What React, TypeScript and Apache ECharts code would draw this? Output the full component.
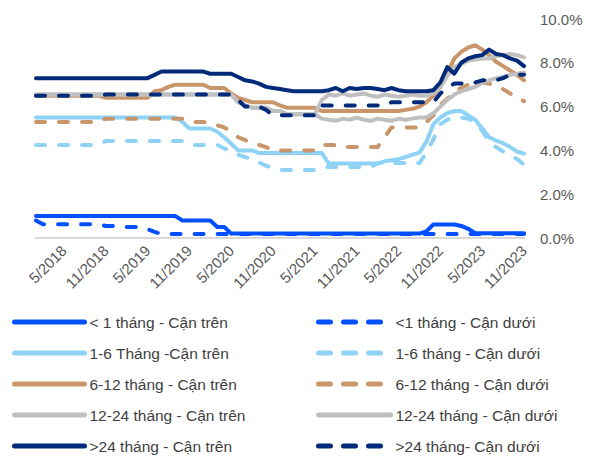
import React, { useEffect, useRef } from "react";
import * as echarts from "echarts";

const months = [
  "1/2018","2/2018","3/2018","4/2018","5/2018","6/2018","7/2018","8/2018","9/2018","10/2018","11/2018","12/2018",
  "1/2019","2/2019","3/2019","4/2019","5/2019","6/2019","7/2019","8/2019","9/2019","10/2019","11/2019","12/2019",
  "1/2020","2/2020","3/2020","4/2020","5/2020","6/2020","7/2020","8/2020","9/2020","10/2020","11/2020","12/2020",
  "1/2021","2/2021","3/2021","4/2021","5/2021","6/2021","7/2021","8/2021","9/2021","10/2021","11/2021","12/2021",
  "1/2022","2/2022","3/2022","4/2022","5/2022","6/2022","7/2022","8/2022","9/2022","10/2022","11/2022","12/2022",
  "1/2023","2/2023","3/2023","4/2023","5/2023","6/2023","7/2023","8/2023","9/2023","10/2023","11/2023"
];

const yTicks = [0, 2, 4, 6, 8, 10];

const lt1Upper = [
  1.0,1.0,1.0,1.0,1.0,1.0,1.0,1.0,1.0,1.0,1.0,1.0,1.0,1.0,1.0,1.0,1.0,1.0,1.0,1.0,1.0,
  0.8,0.8,0.8,0.8,0.8,
  0.5,0.5,
  0.2,0.2,0.2,0.2,0.2,0.2,0.2,0.2,0.2,0.2,0.2,0.2,0.2,0.2,0.2,0.2,0.2,0.2,0.2,0.2,0.2,0.2,0.2,0.2,0.2,0.2,0.2,0.2,
  0.3,0.62,0.62,0.62,0.62,0.55,0.42,
  0.22,0.22,0.22,0.22,0.22,0.22,0.22,0.22
];
const lt1Lower = [
  0.8,
  0.63,0.63,0.63,0.63,0.63,0.63,0.63,0.63,0.63,
  0.55,0.55,
  0.5,0.5,0.5,0.5,
  0.4,0.28,
  0.18,0.18,0.18,0.18,0.18,0.18,0.18,0.18,0.18,0.18,0.18,0.18,0.18,0.18,0.18,0.18,0.18,0.18,0.18,0.18,0.18,0.18,0.18,0.18,0.18,0.18,0.18,
  0.18,0.18,0.18,0.18,0.18,0.18,0.18,0.18,0.18,0.18,0.18,0.18,0.18,0.18,0.18,0.18,0.18,0.18,0.18,0.18,0.18,0.18,0.18,0.18,0.18,0.18
];
const m1to6Upper = [
  5.5,5.5,5.5,5.5,5.5,5.5,5.5,5.5,5.5,5.5,5.5,5.5,5.5,5.5,5.5,5.5,5.5,5.5,5.5,5.5,5.5,
  5.3,5.0,5.0,5.0,5.0,4.85,4.6,4.3,4.0,4.0,4.0,
  3.88,3.88,3.88,3.88,3.88,3.88,3.88,3.88,3.88,3.88,
  3.4,3.4,3.4,3.4,3.4,3.4,3.4,3.4,
  3.5,3.55,3.6,3.7,3.8,3.9,
  4.4,5.2,5.5,5.7,5.8,5.8,5.6,5.4,5.0,4.6,4.45,4.33,4.15,3.95,3.85
];
const m1to6Lower = [
  4.25,4.25,4.25,4.25,4.25,4.25,4.25,4.25,4.25,4.25,
  4.43,4.43,4.43,4.43,4.43,4.43,4.43,4.43,4.43,4.43,4.43,4.43,
  4.25,4.25,4.25,4.25,4.25,
  4.1,3.93,3.8,3.7,3.6,3.45,3.3,3.2,
  3.1,3.1,3.1,3.1,3.1,3.1,
  3.24,3.24,3.24,3.24,3.24,3.24,3.24,3.24,
  3.42,3.42,3.42,3.42,3.42,3.42,3.42,
  3.9,4.5,5.2,5.4,5.5,5.5,5.45,5.3,4.9,4.4,4.15,3.95,3.8,3.6,3.35
];
const m6to12Upper = [
  6.5,6.5,6.5,6.5,6.5,6.5,6.5,6.5,6.5,6.5,
  6.4,6.4,6.4,6.4,6.4,6.4,6.4,
  6.7,6.75,6.9,
  7.0,7.0,7.0,7.0,7.0,
  6.85,6.85,6.85,
  6.6,6.4,6.3,
  6.2,6.2,6.2,6.2,
  6.05,
  5.95,5.95,5.95,5.95,5.95,
  5.8,5.8,5.8,5.8,5.8,5.8,5.8,5.8,5.8,5.8,5.8,5.8,
  5.85,5.9,6.0,6.2,6.5,6.9,7.5,8.2,8.5,8.7,8.8,8.6,8.35,8.05,7.85,7.65,7.45,7.2
];
const m6to12Lower = [
  5.3,5.3,5.3,5.3,5.3,5.3,5.3,5.3,5.3,5.3,
  5.45,5.45,5.45,5.45,5.45,5.45,5.45,5.45,5.45,5.45,5.45,5.45,
  5.3,5.3,5.3,
  5.25,5.15,5.05,4.85,4.6,4.47,4.35,4.25,4.15,
  4.0,4.0,4.0,4.0,4.0,4.0,4.0,
  4.25,4.25,4.25,
  4.15,4.15,4.15,4.15,4.15,4.15,
  4.6,
  5.05,5.05,5.05,5.05,5.05,
  5.3,5.6,6.1,6.35,6.7,6.85,7.0,7.1,7.1,7.05,6.95,6.8,6.6,6.4,6.25
];
const m12to24Upper = [
  6.55,6.55,6.55,6.55,6.55,6.55,6.55,6.55,6.55,6.55,6.55,6.55,6.55,6.55,6.55,6.55,6.55,6.55,6.55,6.55,
  6.55,6.55,6.55,6.55,6.55,6.55,6.55,6.55,6.55,
  6.2,6.05,5.95,5.95,5.95,5.8,5.8,5.65,5.65,5.65,5.65,5.65,
  6.3,
  6.55,6.5,6.6,6.5,6.55,6.6,6.5,6.45,6.55,6.5,6.45,6.5,6.55,6.5,6.5,6.6,
  6.9,7.4,7.8,7.95,8.1,8.15,8.2,8.2,8.3,8.35,8.4,8.35,8.25
];
const m12to24Lower = [
  6.55,6.55,6.55,6.55,6.55,6.55,6.55,6.55,6.55,6.55,6.55,6.55,6.55,6.55,6.55,6.55,6.55,6.55,6.55,6.55,
  6.55,6.55,6.55,6.55,6.55,6.55,6.55,6.55,6.55,
  6.2,6.05,5.95,5.95,5.95,5.8,5.8,5.65,5.65,5.65,5.65,5.65,
  5.45,5.4,5.35,5.45,5.4,5.5,5.4,5.35,5.45,5.4,5.35,5.45,5.4,5.45,5.5,5.5,
  5.7,6.0,6.3,6.55,6.7,6.8,6.9,7.1,7.2,7.3,7.35,7.45,7.5,7.55
];
const gt24Upper = [
  7.3,7.3,7.3,7.3,7.3,7.3,7.3,7.3,7.3,7.3,7.3,7.3,7.3,7.3,7.3,7.3,7.3,
  7.45,
  7.6,7.6,7.6,7.6,7.6,7.6,7.6,
  7.5,7.5,7.5,7.5,
  7.35,7.2,7.15,7.05,6.9,6.85,6.8,6.75,
  6.7,6.7,6.7,6.7,
  6.7,6.75,6.85,6.7,6.85,6.8,6.85,6.85,6.8,6.75,6.85,6.75,6.7,6.7,6.7,6.7,6.75,
  7.1,7.8,7.5,8.0,8.2,8.3,8.35,8.6,8.4,8.35,8.2,8.1,7.85
];
const gt24Lower = [
  6.5,6.5,6.5,6.5,6.5,6.5,6.5,6.5,6.5,6.5,
  6.55,6.55,6.55,6.55,6.55,6.55,6.55,6.55,6.55,6.55,6.55,6.55,6.55,6.55,6.55,6.55,6.55,6.55,6.55,
  6.3,6.0,6.0,6.0,5.85,
  5.6,5.6,5.6,5.6,5.6,5.6,5.6,
  6.05,6.05,6.05,6.05,6.05,6.05,6.05,6.05,6.05,6.05,
  6.2,6.2,6.2,6.2,6.2,6.2,6.2,
  6.6,6.85,7.05,7.05,7.05,7.1,7.2,7.2,7.2,7.3,7.45,7.45,7.45
];

const BLUE = "#0050FF";
const LIGHT = "#8ED3F6";
const BROWN = "#C9966B";
const GRAY = "#BFBFBF";
const NAVY = "#002B7A";

const FONT = "'Liberation Sans Narrow', 'Arial Narrow', 'Liberation Sans', Arial, sans-serif";

type Def = { name: string; data: number[]; color: string; dashed: boolean };

const defs: Def[] = [
  { name: "< 1 tháng - Cận trên", data: lt1Upper, color: BLUE, dashed: false },
  { name: "<1 tháng - Cận dưới", data: lt1Lower, color: BLUE, dashed: true },
  { name: "1-6 Tháng -Cận trên", data: m1to6Upper, color: LIGHT, dashed: false },
  { name: "1-6 tháng - Cận dưới", data: m1to6Lower, color: LIGHT, dashed: true },
  { name: "6-12 tháng - Cận trên", data: m6to12Upper, color: BROWN, dashed: false },
  { name: "6-12 tháng - Cận dưới", data: m6to12Lower, color: BROWN, dashed: true },
  { name: "12-24 tháng - Cận trên", data: m12to24Upper, color: GRAY, dashed: false },
  { name: "12-24 tháng - Cận dưới", data: m12to24Lower, color: GRAY, dashed: false },
  { name: ">24 tháng - Cận trên", data: gt24Upper, color: NAVY, dashed: false },
  { name: ">24 tháng- Cận dưới", data: gt24Lower, color: NAVY, dashed: true },
];

export default function App() {
  const ref = useRef<HTMLDivElement>(null);
  useEffect(() => {
    if (!ref.current) return;
    const chart = echarts.init(ref.current, null, { renderer: "svg" });
    const legendItem = (d: Def) => ({
      name: d.name,
      itemStyle: { opacity: 0 },
      lineStyle: d.dashed
        ? { type: [12, 13], width: 5, cap: "round", color: d.color }
        : { type: "solid", width: 5, cap: "round", color: d.color },
    });
    const leftNames = defs.filter((_, i) => i % 2 === 0);
    const rightNames = defs.filter((_, i) => i % 2 === 1);
    const legendText = { fontFamily: FONT, fontSize: 15.5, color: "#404040" };
    const legendBase = {
      orient: "vertical",
      top: 314,
      height: 144,
      padding: 0,
      itemHeight: 16,
      itemGap: 15,
      itemStyle: { opacity: 0 },
      textStyle: legendText,
    };
    chart.setOption({
      animation: false,
      textStyle: { fontFamily: FONT },
      grid: { left: 36, right: 71, top: 19, bottom: 220, containLabel: false },
      legend: [
        { ...legendBase, left: 12, itemWidth: 70, data: leftNames.map(legendItem) },
        { ...legendBase, left: 316, itemWidth: 72, data: rightNames.map(legendItem) },
      ],
      xAxis: {
        type: "category",
        data: months,
        boundaryGap: false,
        axisLine: { lineStyle: { color: "#D9D9D9", width: 2 } },
        axisTick: { show: false },
        splitLine: { show: false },
        axisLabel: {
          rotate: 45,
          margin: 10,
          color: "#595959",
          fontSize: 15,
          fontFamily: FONT,
          interval: (_i: number, v: string) => v.startsWith("5/") || v.startsWith("11/"),
        },
      },
      yAxis: {
        type: "value",
        position: "right",
        min: yTicks[0],
        max: yTicks[yTicks.length - 1],
        interval: 2,
        axisLine: { show: false },
        axisTick: { show: false },
        splitLine: { show: false },
        axisLabel: {
          margin: 16,
          color: "#595959",
          fontSize: 15,
          fontFamily: FONT,
          formatter: (v: number) => v.toFixed(1) + "%",
        },
      },
      series: defs.map((d) => ({
        name: d.name,
        type: "line",
        data: d.data,
        symbol: "none",
        showSymbol: false,
        color: d.color,
        lineStyle: {
          color: d.color,
          width: 4,
          type: d.dashed ? [9, 14] : "solid",
          cap: "round",
          join: "round",
        },
      })),
    });
    return () => chart.dispose();
  }, []);
  return (
    <div
      ref={ref}
      style={{ position: "absolute", left: 0, top: 0, width: 595, height: 458 }}
    />
  );
}
